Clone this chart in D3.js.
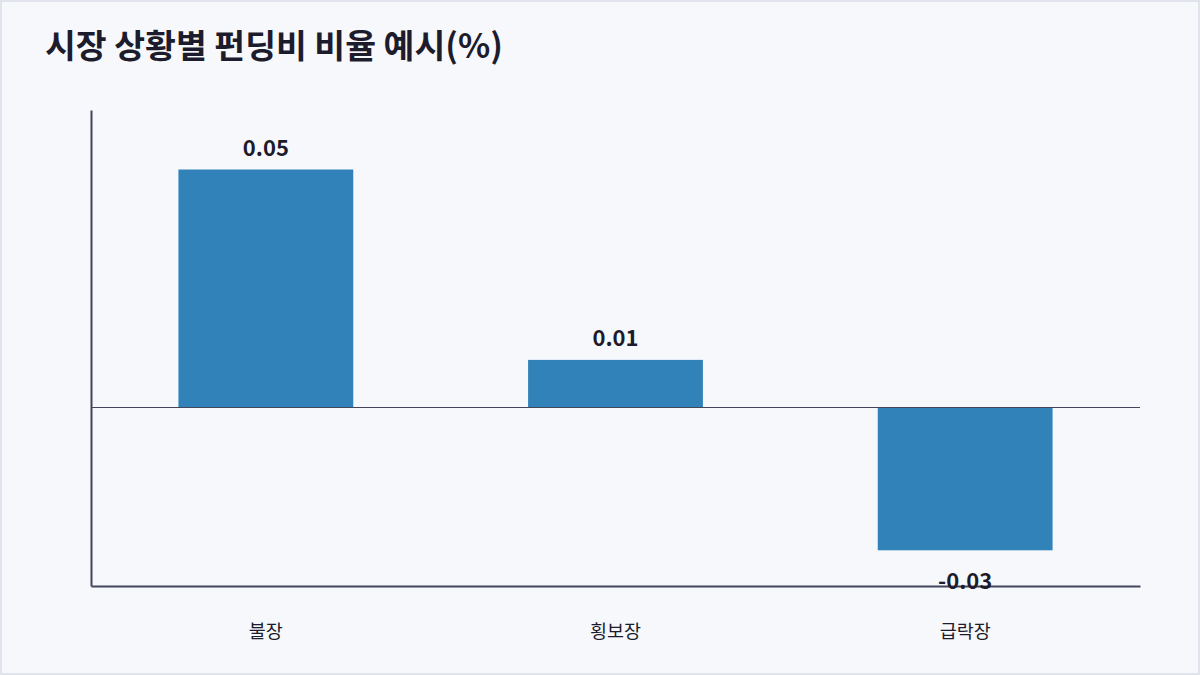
<!DOCTYPE html>
<html>
<head>
<meta charset="utf-8">
<script src="https://cdn.jsdelivr.net/npm/d3@7"></script>
<style>
  html, body { margin: 0; padding: 0; background: #f7f8fc; }
  svg { display: block; }
</style>
</head>
<body>
<svg id="chart"></svg>
<script>
// data
const categories = ["불장", "횡보장", "급락장"];
const values = [0.05, 0.01, -0.03];
const labels = ["0.05", "0.01", "-0.03"];
const title = "시장 상황별 펀딩비 비율 예시(%)";

const W = 1200, H = 675;
const margin = {top: 110, right: 60, bottom: 89, left: 91};
const font = "'Noto Sans CJK KR', 'Noto Sans', sans-serif";

const svg = d3.select("#chart").attr("width", W).attr("height", H);

svg.append("rect")
  .attr("x", 1).attr("y", 1).attr("width", W - 2).attr("height", H - 2)
  .attr("fill", "#f7f8fc").attr("stroke", "#e1e4ec").attr("stroke-width", 2);

svg.append("text")
  .attr("x", 45).attr("y", 58)
  .attr("font-family", font).attr("font-size", 33.5).attr("font-weight", 700)
  .attr("fill", "#1c1c2c")
  .text(title);

const x = d3.scaleBand()
  .domain(categories)
  .range([margin.left, W - margin.right])
  .paddingInner(0.5).paddingOuter(0.25);

const y = d3.scaleLinear()
  .domain([-0.0375, 0.0625])
  .range([H - margin.bottom, margin.top]);

const g = svg.append("g");

g.selectAll("rect.bar").data(values).enter().append("rect")
  .attr("class", "bar")
  .attr("x", (d, i) => x(categories[i]))
  .attr("width", x.bandwidth())
  .attr("y", d => y(Math.max(0, d)))
  .attr("height", d => Math.abs(y(d) - y(0)))
  .attr("fill", "#3182b9");

// zero line
g.append("line")
  .attr("x1", margin.left).attr("x2", W - margin.right)
  .attr("y1", y(0)).attr("y2", y(0))
  .attr("stroke", "#44445a").attr("stroke-width", 1);

// axes
const xAxis = g.append("g")
  .attr("transform", `translate(0,${H - margin.bottom})`)
  .call(d3.axisBottom(x).tickSize(0).tickPadding(39));
xAxis.select(".domain").attr("stroke", "#44445a").attr("stroke-width", 2);
xAxis.selectAll("text")
  .attr("font-family", font).attr("font-size", 18.5).attr("fill", "#1c1c2c");

const yAxis = g.append("g")
  .attr("transform", `translate(${margin.left},0)`)
  .call(d3.axisLeft(y).tickValues([]).tickSize(0));
yAxis.select(".domain").attr("stroke", "#44445a").attr("stroke-width", 2);

// value labels
g.selectAll("text.val").data(values).enter().append("text")
  .attr("class", "val")
  .attr("x", (d, i) => x(categories[i]) + x.bandwidth() / 2)
  .attr("y", d => d >= 0 ? y(d) - 14 : y(d) + 39)
  .attr("text-anchor", "middle")
  .attr("font-family", font).attr("font-size", 22).attr("font-weight", 700)
  .attr("fill", "#1c1c2c")
  .text((d, i) => labels[i]);
</script>
</body>
</html>
